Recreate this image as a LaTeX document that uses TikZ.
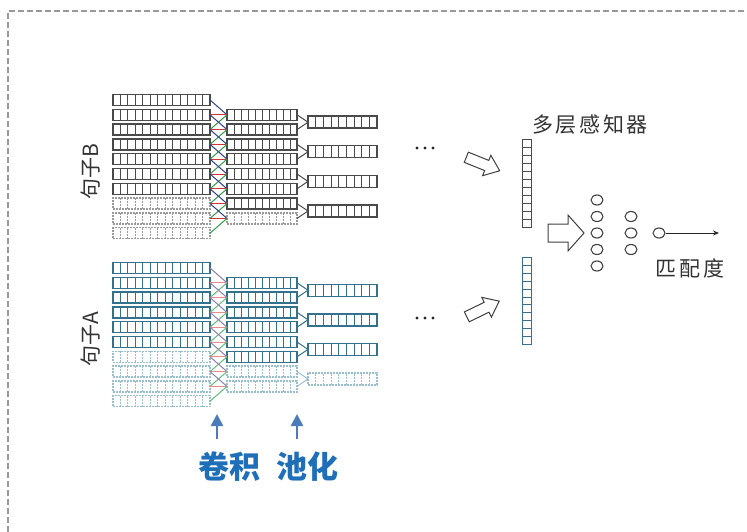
\documentclass[tikz,border=0pt]{standalone}
\usepackage{fontspec}
\newfontfamily\cjk{Noto Sans CJK SC}
\newfontfamily\cjksp{Noto Sans CJK SC}[LetterSpace=12]
\usetikzlibrary{calc,shapes.geometric,arrows.meta}
\definecolor{bsolid}{HTML}{4A4A4A}
\definecolor{bdash}{HTML}{9A9A9A}
\definecolor{asolid}{HTML}{33718D}
\definecolor{adash}{HTML}{98BFCF}
\definecolor{bblue}{HTML}{2E3F8F}
\definecolor{bred}{HTML}{D03535}
\definecolor{bgreen}{HTML}{2E9E4A}
\definecolor{ablue}{HTML}{8A80B8}
\definecolor{ared}{HTML}{E88A8A}
\definecolor{agreen}{HTML}{5DBE7A}
\definecolor{uparrow}{HTML}{4A7DBA}
\definecolor{labelblue}{HTML}{1E6EB8}
\tikzset{
  rowbox/.style={draw, rectangle, inner sep=0pt, outer sep=0pt, line width=1.4pt},
  hdiv/.style={path picture={\foreach \k in {1,...,#1}{\draw[divline] ($(path picture bounding box.south west)!{\k/(#1+1)}!(path picture bounding box.south east)$) -- ($(path picture bounding box.north west)!{\k/(#1+1)}!(path picture bounding box.north east)$);}}},
  vdiv/.style={path picture={\foreach \k in {1,...,#1}{\draw[divline] ($(path picture bounding box.north west)!{\k/(#1+1)}!(path picture bounding box.south west)$) -- ($(path picture bounding box.north east)!{\k/(#1+1)}!(path picture bounding box.south east)$);}}},
  inrow/.style={rowbox, minimum width=97pt, minimum height=11pt, hdiv=12},
  convrow/.style={rowbox, minimum width=70pt, minimum height=11pt, hdiv=9},
  poolrow/.style={rowbox, minimum width=69pt, minimum height=12pt, hdiv=8},
  vecbox/.style={rowbox, line width=1pt, minimum width=8.5pt, minimum height=87pt, vdiv=10},
  Bs/.style={draw=bsolid, divline/.style={draw=bsolid, line width=1pt}},
  Bd/.style={draw=bdash, dash pattern=on 2pt off 1pt, divline/.style={draw=bdash, line width=0.9pt, dash pattern=on 2pt off 1pt}},
  As/.style={draw=asolid, divline/.style={draw=asolid, line width=1pt}},
  Ad/.style={draw=adash, dash pattern=on 2pt off 1pt, divline/.style={draw=adash, line width=0.9pt, dash pattern=on 2pt off 1pt}},
  link/.style={line width=1pt},
  neuron/.style={draw=black!75, ellipse, line width=1.1pt, minimum width=12pt, minimum height=10pt, inner sep=0pt},
  hollow/.style={draw=black!75, fill=white, line width=1pt, line join=miter},
  uparr/.style={draw=uparrow, line width=2.5pt, -{Triangle[width=12pt,length=12pt]}},
  sidelabel/.style={font=\cjk\fontsize{21}{24}\selectfont, text=black!80, rotate=90, inner sep=0pt},
  plainlabel/.style={font=\cjksp\fontsize{21}{24}\selectfont, text=black!80, inner sep=0pt},
  steplabel/.style={font=\cjk\bfseries\fontsize{31}{34}\selectfont, text=labelblue, inner sep=0pt},
}
\begin{document}
\begin{tikzpicture}[x=1pt, y=-1pt]
\useasboundingbox (0,0) rectangle (747,532);
% page border (dashed, top and left)
\draw[gray!80, line width=1.2pt, dash pattern=on 6pt off 3pt] (8,532) -- (8,11) -- (747,11);

% ---------------- sentence B ----------------
\foreach \i in {1,...,7}{\node[inrow,Bs] (bi\i) at (161.5,{100+14.8*(\i-1)}) {};}
\foreach \i in {8,9,10}{\node[inrow,Bd] (bi\i) at (161.5,{100+14.8*(\i-1)}) {};}
\foreach \j in {1,...,7}{\node[convrow,Bs] (bc\j) at (262,{100+14.8*\j}) {};}
\node[convrow,Bd] (bc8) at (262,{100+14.8*8}) {};
\foreach \k in {1,...,4}{\node[poolrow,Bs] (bp\k) at (342.5,{100+14.8*(2*\k-0.5)}) {};}
\foreach \j in {1,...,8}{
  \pgfmathtruncatemacro\ja{\j+1}
  \pgfmathtruncatemacro\jb{\j+2}
  \draw[link,bblue] (bi\j.east) -- (bc\j.west);
  \draw[link,bred] (bi\ja.east) -- (bc\j.west);
  \draw[link,bgreen] (bi\jb.east) -- (bc\j.west);
}
\foreach \k in {1,...,4}{
  \pgfmathtruncatemacro\ca{2*\k-1}
  \pgfmathtruncatemacro\cb{2*\k}
  \draw[link,bsolid] (bc\ca.east) -- (bp\k.west) -- (bc\cb.east);
}
\node[sidelabel] (lb) at (91,172) {句子B};

% ---------------- sentence A ----------------
\foreach \i in {1,...,6}{\node[inrow,As] (ai\i) at (161.5,{268+14.8*(\i-1)}) {};}
\foreach \i in {7,...,10}{\node[inrow,Ad] (ai\i) at (161.5,{268+14.8*(\i-1)}) {};}
\foreach \j in {1,...,6}{\node[convrow,As] (ac\j) at (262,{268+14.8*\j}) {};}
\foreach \j in {7,8}{\node[convrow,Ad] (ac\j) at (262,{268+14.8*\j}) {};}
\foreach \k in {1,...,3}{\node[poolrow,As] (ap\k) at (342.5,{268+14.8*(2*\k-0.5)}) {};}
\node[poolrow,Ad] (ap4) at (342.5,{268+14.8*7.5}) {};
\foreach \j in {1,...,8}{
  \pgfmathtruncatemacro\ja{\j+1}
  \pgfmathtruncatemacro\jb{\j+2}
  \draw[link,ablue] (ai\j.east) -- (ac\j.west);
  \draw[link,ared] (ai\ja.east) -- (ac\j.west);
  \draw[link,agreen] (ai\jb.east) -- (ac\j.west);
}
\foreach \k in {1,...,3}{
  \pgfmathtruncatemacro\ca{2*\k-1}
  \pgfmathtruncatemacro\cb{2*\k}
  \draw[link,asolid] (ac\ca.east) -- (ap\k.west) -- (ac\cb.east);
}
\draw[link,adash] (ac7.east) -- (ap4.west) -- (ac8.east);
\node[sidelabel] (la) at (91,339) {句子A};

% ---------------- dots and hollow arrows ----------------
\foreach \xx in {417,425,433}{
  \fill[black!85] (\xx,148) circle (1.7);
  \fill[black!85] (\xx,318) circle (1.7);
}
\begin{scope}[shift={(483,164)}, rotate=-22]
  \draw[hollow] (-18,-5.5) -- (4,-5.5) -- (4,-11) -- (18,0) -- (4,11) -- (4,5.5) -- (-18,5.5) -- cycle;
\end{scope}
\begin{scope}[shift={(483,309)}, rotate=26]
  \draw[hollow] (-18,-5.5) -- (4,-5.5) -- (4,-11) -- (18,0) -- (4,11) -- (4,5.5) -- (-18,5.5) -- cycle;
\end{scope}

% ---------------- sentence vectors ----------------
\node[vecbox,Bs] (vb) at (527,183.5) {};
\node[vecbox,As] (va) at (527,301) {};
\node[plainlabel] (mlp) at (590,125) {多层感知器};

% big arrow
\draw[hollow] (548,224) -- (568,224) -- (568,215) -- (584,233) -- (568,251) -- (568,242) -- (548,242) -- cycle;

% ---------------- perceptron ----------------
\foreach \n/\yy in {1/200,2/216.5,3/233,4/249.5,5/266}{\node[neuron] (h\n) at (597,\yy) {};}
\foreach \n/\yy in {1/216.5,2/233,3/249.5}{\node[neuron] (g\n) at (631,\yy) {};}
\node[neuron] (o) at (659,233) {};
\coordinate (oend) at (719,233);
\draw[black!85, line width=1pt, -{Stealth[length=6pt,width=5pt]}] (o.east) -- (oend);
\node[plainlabel] (score) at (690,268) {匹配度};

% ---------------- conv / pool labels ----------------
\coordinate (cs) at (217,439);
\coordinate (ct) at (217,414);
\coordinate (ps) at (297,439);
\coordinate (pt) at (297,414);
\draw[uparr] (cs) -- (ct);
\draw[uparr] (ps) -- (pt);
\node[steplabel] (conv) at (229,467) {卷积};
\node[steplabel] (pool) at (307,467) {池化};
\end{tikzpicture}
\end{document}
